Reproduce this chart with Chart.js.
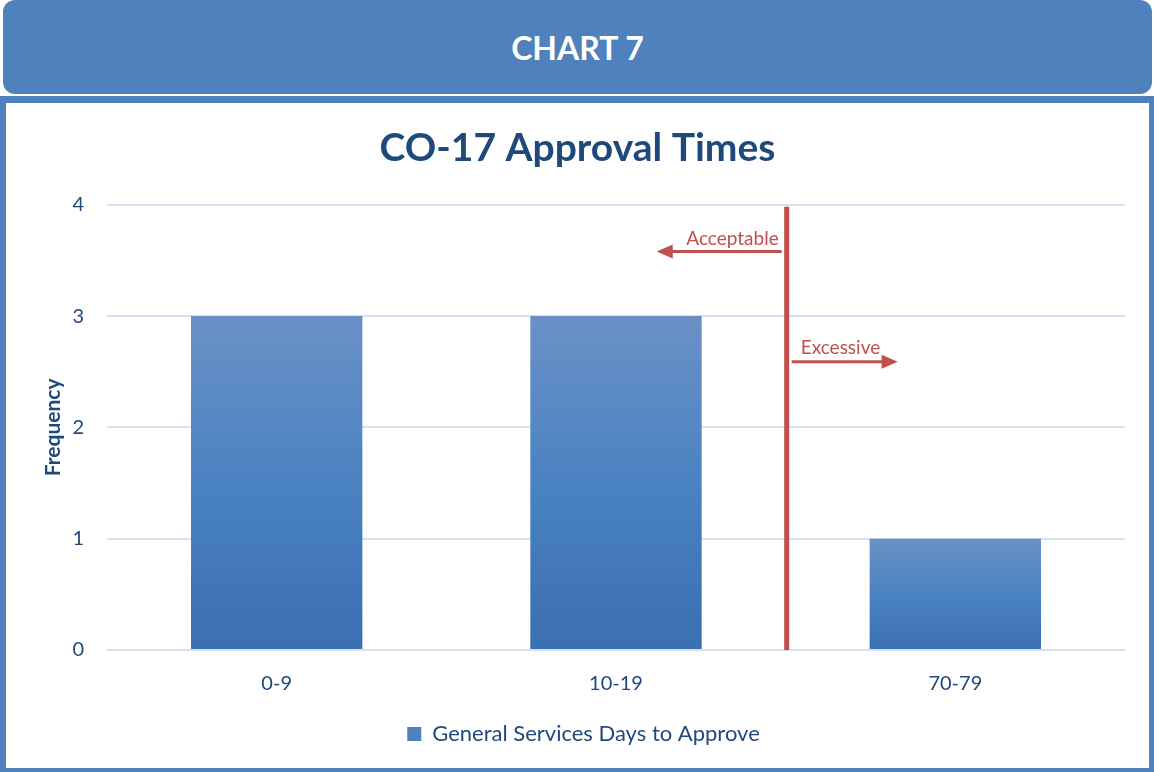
<!DOCTYPE html>
<html>
<head>
<meta charset="utf-8">
<script src="https://cdn.jsdelivr.net/npm/chart.js@4"></script>
<style>
	html, body { margin: 0; padding: 0; background: #fff; }
	body { width: 1154px; height: 772px; position: relative; overflow: hidden; font-family: Lato, "Open Sans", sans-serif; }
	#header {
		position: absolute; left: 3px; top: 0; width: 1149px; height: 94px;
		background: #4f81bd; border-radius: 12px;
		color: #fff; font-weight: bold; font-size: 32px;
		display: flex; align-items: center; justify-content: center;
	}
	#frame {
		position: absolute; left: 0; top: 96px; width: 1154px; height: 676px;
		box-sizing: border-box; background: #4f81bd;
		padding: 7px 5px 4px 6px;
	}
	#inner { width: 1143px; height: 665px; background: #fff; position: relative; }
</style>
</head>
<body>
<div id="header">CHART 7</div>
<div id="frame"><div id="inner"><canvas id="myChart" width="1143" height="665"></canvas></div></div>
<script>
(() => {
	'use strict'

	const categories = ['0-9', '10-19', '70-79'];
	const frequency = [3, 3, 1];
	const yTicks = [0, 1, 2, 3, 4];
	const seriesName = 'General Services Days to Approve';

	// cut-off between acceptable and excessive (category index units)
	const thresholdAt = 1.503;

	const darkBlue = '#1f497d';
	const red = '#c0504d';
	const fontFamily = 'Lato, "Open Sans", sans-serif';
	const ctx = document.getElementById('myChart');

	function barGradient(context) {
		const chart = context.chart;
		if (!chart.chartArea || context.type !== 'data') {
			return '#4f81bd';
		}
		const y = chart.scales.y;
		const top = y.getPixelForValue(context.raw);
		const bottom = y.getPixelForValue(0);
		const g = chart.ctx.createLinearGradient(0, top, 0, bottom);
		g.addColorStop(0, '#6a91c6');
		g.addColorStop(0.5, '#4a82c2');
		g.addColorStop(1, '#3a6fb0');
		return g;
	}

	function arrow(c, x1, x2, y) {
		const dir = x2 > x1 ? 1 : -1;
		c.beginPath();
		c.moveTo(x1, y);
		c.lineTo(x2 - dir * 12, y);
		c.stroke();
		c.beginPath();
		c.moveTo(x2, y);
		c.lineTo(x2 - dir * 16, y - 7);
		c.lineTo(x2 - dir * 16, y + 7);
		c.closePath();
		c.fill();
	}

	const thresholdPlugin = {
		id: 'threshold',
		afterDatasetsDraw(chart, args, opts) {
			const c = chart.ctx;
			const x = chart.scales.x;
			const y = chart.scales.y;
			const area = chart.chartArea;
			const lx = x.getPixelForValue(opts.at);
			c.save();
			c.strokeStyle = red;
			c.fillStyle = red;
			c.lineWidth = 5;
			c.beginPath();
			c.moveTo(lx, area.top + 2);
			c.lineTo(lx, area.bottom);
			c.stroke();

			c.lineWidth = 3;
			const ay = y.getPixelForValue(opts.left.y);
			arrow(c, lx - 5, x.getPixelForValue(opts.left.to), ay);
			const ey = y.getPixelForValue(opts.right.y);
			arrow(c, lx + 5, x.getPixelForValue(opts.right.to), ey);

			c.font = '19px ' + fontFamily;
			c.textBaseline = 'alphabetic';
			c.textAlign = 'right';
			c.fillText(opts.left.text, lx - 8, ay - 7);
			c.textAlign = 'left';
			c.fillText(opts.right.text, lx + 14, ey - 8);
			c.restore();
		}
	};

	// title is centred on the whole card, legend sits a little right of it
	const nudgePlugin = {
		id: 'nudge',
		afterLayout(chart) {
			if (chart.titleBlock) {
				chart.titleBlock.left += 12;
				chart.titleBlock.right += 12;
			}
			if (chart.legend) {
				chart.legend.left += 18;
				chart.legend.right += 18;
			}
		}
	};

	new Chart(ctx, {
		type: 'bar',
		data: {
			labels: categories,
			datasets: [{
				label: seriesName,
				data: frequency,
				backgroundColor: barGradient,
				borderWidth: 0,
				categoryPercentage: 1,
				barPercentage: 0.505
			}]
		},
		options: {
			responsive: false,
			animation: false,
			events: [],
			layout: { padding: { left: 0, right: 24, top: 0, bottom: 13 } },
			plugins: {
				title: {
					display: true,
					text: 'CO-17 Approval Times',
					color: darkBlue,
					font: { family: fontFamily, size: 39, weight: 'bold' },
					padding: { top: 22, bottom: 33 }
				},
				legend: {
					position: 'bottom',
					labels: {
						color: darkBlue,
						font: { family: fontFamily, size: 22 },
						boxWidth: 14,
						boxHeight: 14,
						padding: 11,
						generateLabels: (chart) => [{
							text: seriesName,
							fillStyle: '#4f81bd',
							strokeStyle: '#4f81bd',
							fontColor: darkBlue,
							lineWidth: 0,
							datasetIndex: 0
						}]
					}
				},
				tooltip: { enabled: false },
				threshold: {
					at: thresholdAt,
					left: { text: 'Acceptable', to: 1.12, y: 3.58 },
					right: { text: 'Excessive', to: 1.83, y: 2.59 }
				}
			},
			scales: {
				x: {
					grid: { display: false, drawTicks: false },
					border: { display: false },
					ticks: {
						color: darkBlue,
						font: { family: fontFamily, size: 20 },
						padding: 22
					},
					afterFit: (scale) => { scale.height = 62; }
				},
				y: {
					min: 0,
					max: 4,
					afterBuildTicks: (scale) => {
						scale.ticks = yTicks.map((v) => ({ value: v }));
					},
					afterFit: (scale) => { scale.width = 101; },
					grid: { color: '#d6e2f1', lineWidth: 2, drawTicks: false },
					border: { display: false },
					ticks: {
						color: darkBlue,
						font: { family: fontFamily, size: 20 },
						padding: 23
					},
					title: {
						display: true,
						text: 'Frequency',
						color: darkBlue,
						font: { family: fontFamily, size: 21, weight: 'bold' },
						padding: { top: 35, bottom: 0 }
					}
				}
			}
		},
		plugins: [thresholdPlugin, nudgePlugin]
	});
})()
</script>
</body>
</html>
